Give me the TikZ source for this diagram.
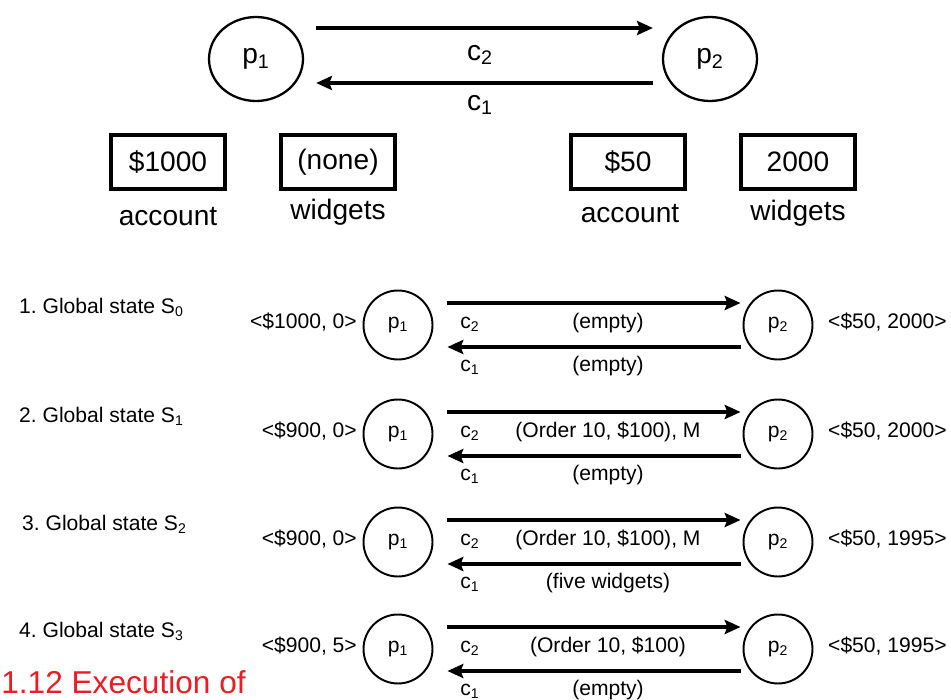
\documentclass[tikz,border=0pt]{standalone}
\usepackage{fontspec}
\setmainfont{Liberation Sans}
\usetikzlibrary{arrows.meta,shapes.geometric,positioning}
\definecolor{headred}{RGB}{236,28,36}
\frenchspacing

\tikzset{
  bigtxt/.style={font=\fontsize{16}{19}\selectfont},
  smalltxt/.style={font=\fontsize{12}{14}\selectfont},
  proc/.style={draw,ellipse,line width=1.3pt,inner sep=0pt,
    minimum width=1.88cm,minimum height=1.68cm,bigtxt},
  sproc/.style={draw,circle,line width=1.1pt,inner sep=0pt,
    minimum size=1.38cm,smalltxt},
  valbox/.style={draw,line width=2.2pt,minimum width=2.28cm,
    minimum height=1.08cm,bigtxt},
  chan/.style={line width=2.2pt,-{Stealth[length=9pt,width=8pt,inset=1.5pt]}},
}

\begin{document}
\begin{tikzpicture}[x=0.02cm,y=-0.02cm]
\useasboundingbox (0,0) rectangle (951,700);

% the two processes and their channels
\node[proc] (p1) at (256,59) {p\textsubscript{1}};
\node[proc] (p2) at (710,59) {p\textsubscript{2}};
\draw[chan] ([shift={(0.24cm,0.62cm)}]p1.east) -- ([shift={(-0.18cm,0.62cm)}]p2.west);
\draw[chan] ([shift={(-0.18cm,-0.48cm)}]p2.west) -- ([shift={(0.24cm,-0.48cm)}]p1.east);
\node[bigtxt,anchor=base] (lc2) at (480,60) {c\textsubscript{2}};
\node[bigtxt,anchor=base] (lc1) at (480,110) {c\textsubscript{1}};

% local state of each process
\node[valbox] (acc1) at (168,162) {\$1000};
\node[valbox] (wid1) at (338,162) {(none)};
\node[valbox] (acc2) at (628,162) {\$50};
\node[valbox] (wid2) at (798,162) {2000};
\node[bigtxt,anchor=base] (acc1lbl) at (168,225) {account};
\node[bigtxt,anchor=base] (wid1lbl) at (338,219) {widgets};
\node[bigtxt,anchor=base] (acc2lbl) at (630,222) {account};
\node[bigtxt,anchor=base] (wid2lbl) at (798,220) {widgets};

% the four global states
\foreach \n/\s/\y/\lx/\lstate/\rstate/\chtop/\chbot in {
  1/0/303/13/{<\$1000, 0>}/{<\$50, 2000>}/{(empty)}/{(empty)},
  2/1/412/13/{<\$900, 0>}/{<\$50, 2000>}/{(Order 10, \$100), M}/{(empty)},
  3/2/520/16/{<\$900, 0>}/{<\$50, 1995>}/{(Order 10, \$100), M}/{(five widgets)},
  4/3/627/13/{<\$900, 5>}/{<\$50, 1995>}/{(Order 10, \$100)}/{(empty)}}{
  \node[smalltxt,anchor=base west] (row\n) at (\lx,\y+10) {\n. Global state S\textsubscript{\s}};
  \node[sproc] (q1-\n) at (398,\y+22) {p\textsubscript{1}};
  \node[sproc] (q2-\n) at (778,\y+22) {p\textsubscript{2}};
  \node[smalltxt,anchor=base east] (ls\n) at (363,\y+25) {\lstate};
  \node[smalltxt,anchor=base west] (rs\n) at (822,\y+25) {\rstate};
  \draw[chan] ([shift={(0.28cm,0.44cm)}]q1-\n.east) -- ([shift={(-0.04cm,0.44cm)}]q2-\n.west);
  \draw[chan] ([shift={(-0.04cm,-0.44cm)}]q2-\n.west) -- ([shift={(0.28cm,-0.44cm)}]q1-\n.east);
  \node[smalltxt,anchor=base] (c2-\n) at (470,\y+25) {c\textsubscript{2}};
  \node[smalltxt,anchor=base] (c1-\n) at (470,\y+68) {c\textsubscript{1}};
  \node[smalltxt,anchor=base] (m2-\n) at (608,\y+25) {\chtop};
  \node[smalltxt,anchor=base] (m1-\n) at (608,\y+68) {\chbot};
}

\node[font=\fontsize{18}{21}\selectfont,text=headred,anchor=base west,inner sep=0pt]
  (cap) at (1,693) {1.12 Execution of};
\end{tikzpicture}
\end{document}
